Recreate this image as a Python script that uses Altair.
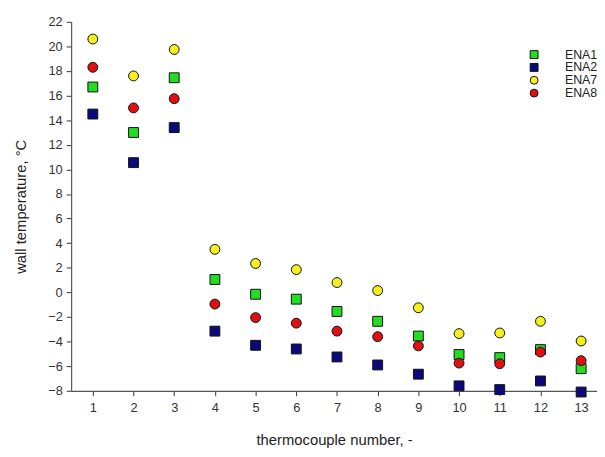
import altair as alt
import pandas as pd

thermocouple = list(range(1, 14))
series_names = ["ENA1", "ENA2", "ENA7", "ENA8"]
ena1 = [16.7, 13.0, 17.45, 1.05, -0.15, -0.55, -1.55, -2.35, -3.55, -5.05, -5.3, -4.65, -6.2]
ena2 = [14.5, 10.55, 13.4, -3.15, -4.3, -4.6, -5.25, -5.9, -6.65, -7.6, -7.9, -7.2, -8.1]
ena7 = [20.6, 17.6, 19.75, 3.5, 2.35, 1.85, 0.8, 0.15, -1.25, -3.35, -3.3, -2.35, -3.95]
ena8 = [18.3, 15.0, 15.75, -0.95, -2.05, -2.5, -3.15, -3.6, -4.35, -5.75, -5.8, -4.85, -5.55]
colors = ["#22dd22", "#0a0a7a", "#f5ef1e", "#e01010"]
shapes = ["square", "square", "circle", "circle"]
edges = ["#111111"] * 4

rows = []
for name, vals in zip(series_names, [ena1, ena2, ena7, ena8]):
    for t, v in zip(thermocouple, vals):
        rows.append({"tc": t, "temp": v, "series": name})
df = pd.DataFrame(rows)

font = "Liberation Sans"
legend = alt.Legend(title=None, orient="none", legendX=463, legendY=27)

chart = alt.Chart(df).mark_point(
    filled=True, size=100, strokeWidth=1, opacity=1
).encode(
    x=alt.X("tc:Q", scale=alt.Scale(domain=[0.467, 13.39], nice=False, zero=False),
            axis=alt.Axis(values=thermocouple, title="thermocouple number, -",
                          grid=False, tickSize=5, labelPadding=6, titlePadding=18)),
    y=alt.Y("temp:Q", scale=alt.Scale(domain=[-8, 22], nice=False, zero=False),
            axis=alt.Axis(values=list(range(-8, 23, 2)), title="wall temperature, °C",
                          grid=False, tickSize=5, labelPadding=4, titlePadding=19)),
    fill=alt.Fill("series:N", scale=alt.Scale(domain=series_names, range=colors), legend=legend),
    stroke=alt.Stroke("series:N", scale=alt.Scale(domain=series_names, range=edges), legend=legend),
    shape=alt.Shape("series:N", scale=alt.Scale(domain=series_names, range=shapes), legend=legend),
    order=alt.Order("series:N"),
).properties(
    width=533, height=374,
    autosize=alt.AutoSizeParams(type="none"),
    padding={"left": 64, "top": 11, "right": 0, "bottom": 56},
).configure_view(stroke=None).configure_axis(
    domainColor="#555", tickColor="#333", labelColor="#333", titleColor="#222",
    labelFont=font, titleFont=font, labelFontSize=13, titleFontSize=15,
    titleFontWeight="normal", domainWidth=1.2,
).configure_legend(
    symbolSize=64, symbolStrokeWidth=1, labelFontSize=12.5, labelFont=font,
    labelColor="#222", labelOffset=25, rowPadding=-2.5, symbolOpacity=1, labelLimit=100,
)

chart.save("out.html", embed_options={"renderer": "svg", "actions": False})
